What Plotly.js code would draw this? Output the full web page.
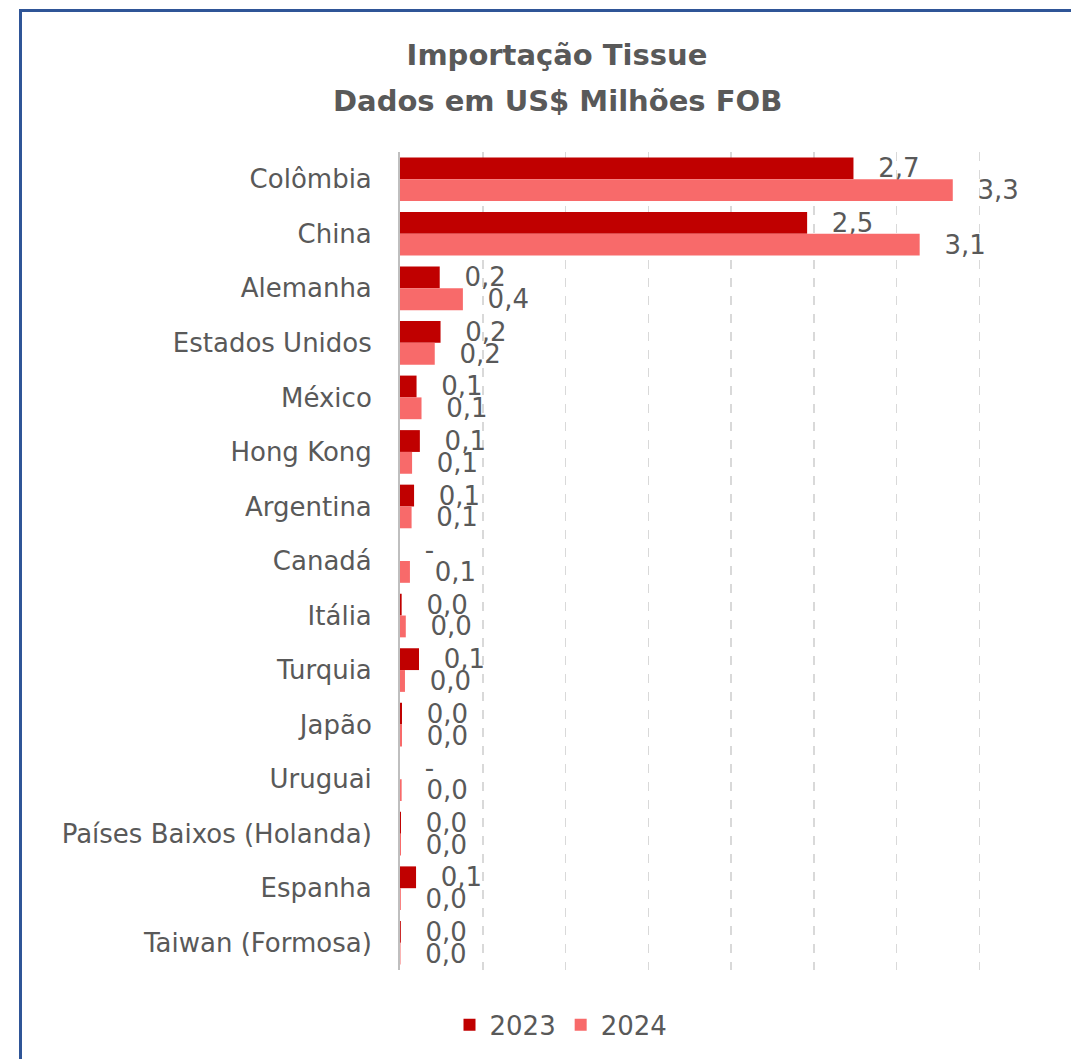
<!DOCTYPE html>
<html>
<head>
<meta charset="utf-8">
<script src="https://cdn.plot.ly/plotly-3.0.1.min.js"></script>
<style>
html,body{margin:0;padding:0;background:#fff;}
#wrap{position:relative;width:1071px;height:1059px;overflow:hidden;}
#chart{position:absolute;left:0;top:0;width:1071px;height:1059px;}
#frame{position:absolute;left:19px;top:9px;width:1200px;height:1200px;border-left:3px solid #2F5597;border-top:3px solid #2F5597;pointer-events:none;}
</style>
</head>
<body>
<div id="wrap"><div id="chart"></div><div id="frame"></div></div>
<script>
const countries = ["Colômbia","China","Alemanha","Estados Unidos","México","Hong Kong","Argentina","Canadá","Itália","Turquia","Japão","Uruguai","Países Baixos (Holanda)","Espanha","Taiwan (Formosa)"];
const values2023 = [2.74,2.46,0.24,0.245,0.10,0.12,0.085,0,0.01,0.115,0.012,0,0.006,0.097,0.005];
const values2024 = [3.34,3.14,0.38,0.21,0.13,0.073,0.07,0.06,0.035,0.03,0.012,0.01,0.006,0.005,0.003];
const seriesNames = ["2023","2024"];
const titleLines = ["Importação Tissue","Dados em US$ Milhões FOB"];

function fmt(v){ return v === 0 ? "-" : v.toFixed(1).replace(".", ","); }
const pad = "\u00a0\u00a0\u2009";

const FONT = "DejaVu Sans, sans-serif";
const GREY = "#595959";
const labelFont = {family:FONT, size:26, color:GREY};

const traces = [
  {type:"bar", orientation:"h", name:seriesNames[0], y:countries, x:values2023,
   marker:{color:"#C00000"}, text:values2023.map(v=>pad+fmt(v)), textposition:"outside",
   textfont:labelFont, constraintext:"none", cliponaxis:false, hoverinfo:"x+y"},
  {type:"bar", orientation:"h", name:seriesNames[1], y:countries, x:values2024,
   marker:{color:"#F86A6A"}, text:values2024.map(v=>pad+fmt(v)), textposition:"outside",
   textfont:labelFont, constraintext:"none", cliponaxis:false, hoverinfo:"x+y"}
];

const layout = {
  width:1071, height:1059,
  paper_bgcolor:"rgba(0,0,0,0)", plot_bgcolor:"rgba(0,0,0,0)",
  margin:{l:400, r:9, t:152, b:89, pad:0},
  barmode:"group", bargap:0.2, bargroupgap:0,
  title:{text:"<b>"+titleLines[0]+"</b>", x:557/1071, xanchor:"center", xref:"container",
         y:1-55/1059, yanchor:"middle", yref:"container",
         font:{family:FONT, size:29, color:GREY}},
  annotations:[
    {text:"<b>"+titleLines[1]+"</b>", xref:"paper", yref:"paper", x:(557-400)/662, y:(970-100)/819,
     xanchor:"center", yanchor:"middle", showarrow:false, font:{family:FONT, size:29, color:GREY}}
  ],
  xaxis:{range:[0,4], dtick:0.5, showticklabels:false, showgrid:true, gridcolor:"#D9D9D9",
         griddash:"dash", gridwidth:1.5, zeroline:false, showline:false, fixedrange:true},
  yaxis:{autorange:"reversed", type:"category", showline:true, linecolor:"#BFBFBF", linewidth:2,
         ticks:"", ticklabelstandoff:21, tickfont:{family:FONT, size:26, color:GREY},
         showgrid:false, zeroline:false, fixedrange:true},
  legend:{orientation:"h", x:(561-400)/662, xanchor:"center", y:-(1025-970)/819, yanchor:"middle",
          font:{family:FONT, size:26, color:GREY}, traceorder:"normal"},
  showlegend:true
};

Plotly.newPlot("chart", traces, layout, {displayModeBar:false, staticPlot:true});
</script>
</body>
</html>
